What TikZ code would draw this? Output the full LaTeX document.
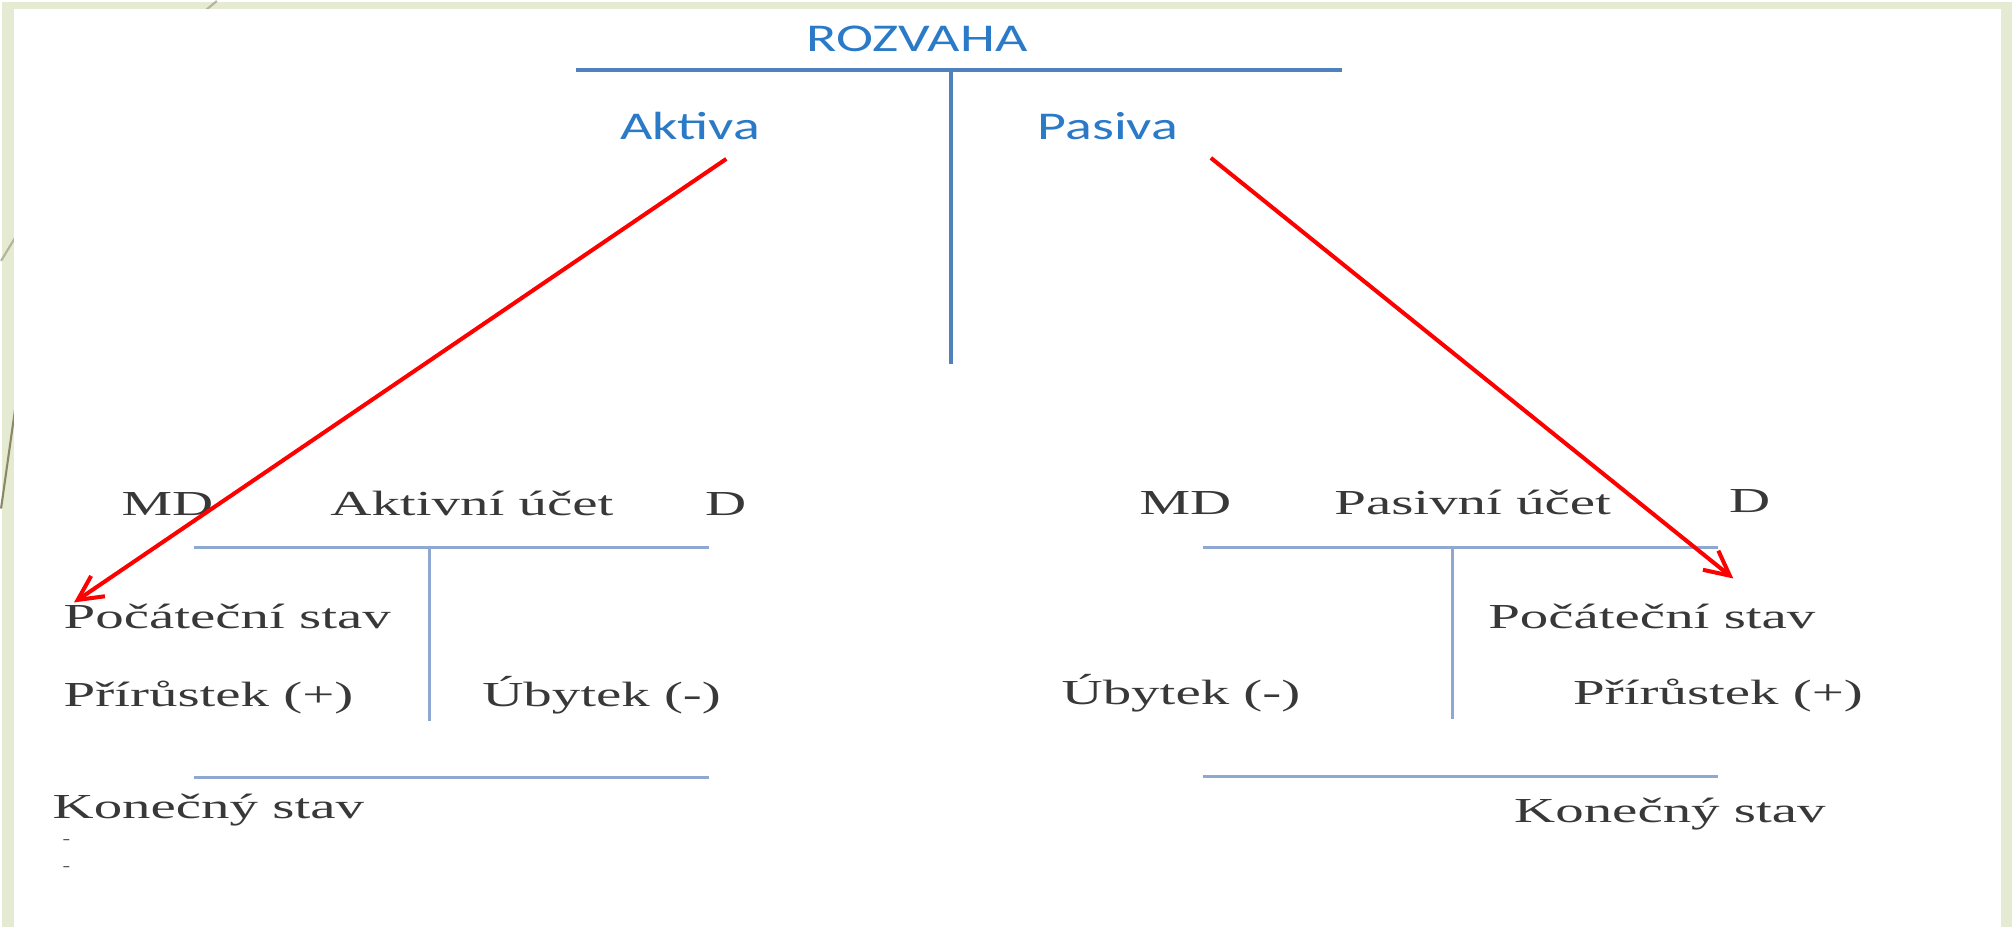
\documentclass[tikz,border=0pt]{standalone}
\usepackage{fontspec}
\setmainfont{Liberation Serif}
\newfontfamily\rozfont[FakeStretch=1.42]{Carlito}
\newfontfamily\ucfont[FakeStretch=1.62]{Liberation Serif}
\usetikzlibrary{arrows.meta,calc}
\definecolor{ramec}{HTML}{E5EAD3}
\definecolor{modra}{HTML}{2A7AC8}
\definecolor{cara}{HTML}{4F81BD}
\definecolor{ucara}{HTML}{8EA8D2}
\definecolor{ozdoba}{HTML}{B4B49A}
\definecolor{ozdobab}{HTML}{8C8866}

\begin{document}
\begin{tikzpicture}[x=0.01cm, y=-0.01cm,
    bal/.style={font=\rozfont\fontsize{11.2}{13}\selectfont, text=modra, inner sep=0, anchor=base west},
    uc/.style={font=\ucfont\fontsize{10}{12}\selectfont, text=black!78, inner sep=0, anchor=base west},
    tline/.style={draw=cara, line width=1.1pt},
    uline/.style={draw=ucara, line width=0.85pt},
    sipka/.style={draw=red, line width=1.15pt, -{Straight Barb[length=7pt,width=7pt]}}]
    % pozadi a ramecek
    \fill[ramec] (0,0) rectangle (2012,926);
    \draw[ozdoba, line width=0.6pt] (204,8) -- (215,-1);
    \draw[ozdoba, line width=0.6pt] (-1,259) -- (13,236);
    \draw[ozdobab, line width=0.6pt] (-1,507) -- (13,408);
    \fill[white] (12,7) rectangle (2001,926);
    \useasboundingbox (0,0) rectangle (2012,926);

    % rozvaha
    \node[bal] (roz) at (805,49) {ROZVAHA};
    \node[bal] (akt) at (618,138) {Aktiva};
    \node[bal] (pas) at (1036,138) {Pasiva};
    \draw[tline] (575,68) -- (1341,68);
    \draw[tline] (950,68) -- (950,362);

    % aktivni ucet
    \node[uc] (mdA) at (119,514) {MD};
    \node[uc] (nazA) at (328,514) {Aktivní účet};
    \node[uc] (dA) at (703,514) {D};
    \draw[uline] (192,546) -- (708,546);
    \draw[uline] (428,546) -- (428,720);
    \node[uc] (pocA) at (61,627) {Počáteční stav};
    \node[uc] (priA) at (61,705) {Přírůstek (+)};
    \node[uc] (ubyA) at (480,705) {Úbytek (-)};
    \draw[uline] (192,776) -- (708,776);
    \node[uc] (konA) at (50,817) {Konečný stav};
    \node[uc, font=\ucfont\fontsize{4}{7.5}\selectfont, align=left, anchor=north west] (teckyA) at (60,838) {-\\-};

    % pasivni ucet
    \node[uc] (mdP) at (1138,513) {MD};
    \node[uc] (nazP) at (1333,513) {Pasivní účet};
    \node[uc] (dP) at (1728,511) {D};
    \draw[uline] (1202,546) -- (1718,546);
    \draw[uline] (1452,546) -- (1452,718);
    \node[uc] (pocP) at (1487,627) {Počáteční stav};
    \node[uc] (ubyP) at (1060,703) {Úbytek (-)};
    \node[uc] (priP) at (1572,703) {Přírůstek (+)};
    \draw[uline] (1202,775) -- (1718,775);
    \node[uc] (konP) at (1513,821) {Konečný stav};

    % sipky
    \draw[sipka] ($(akt.base west)+(107,19)$) -- ($(pocA.base west)+(11,-26)$);
    \draw[sipka] ($(pas.base west)+(174,18)$) -- ($(pocP.base west)+(246,-50)$);
\end{tikzpicture}
\end{document}
